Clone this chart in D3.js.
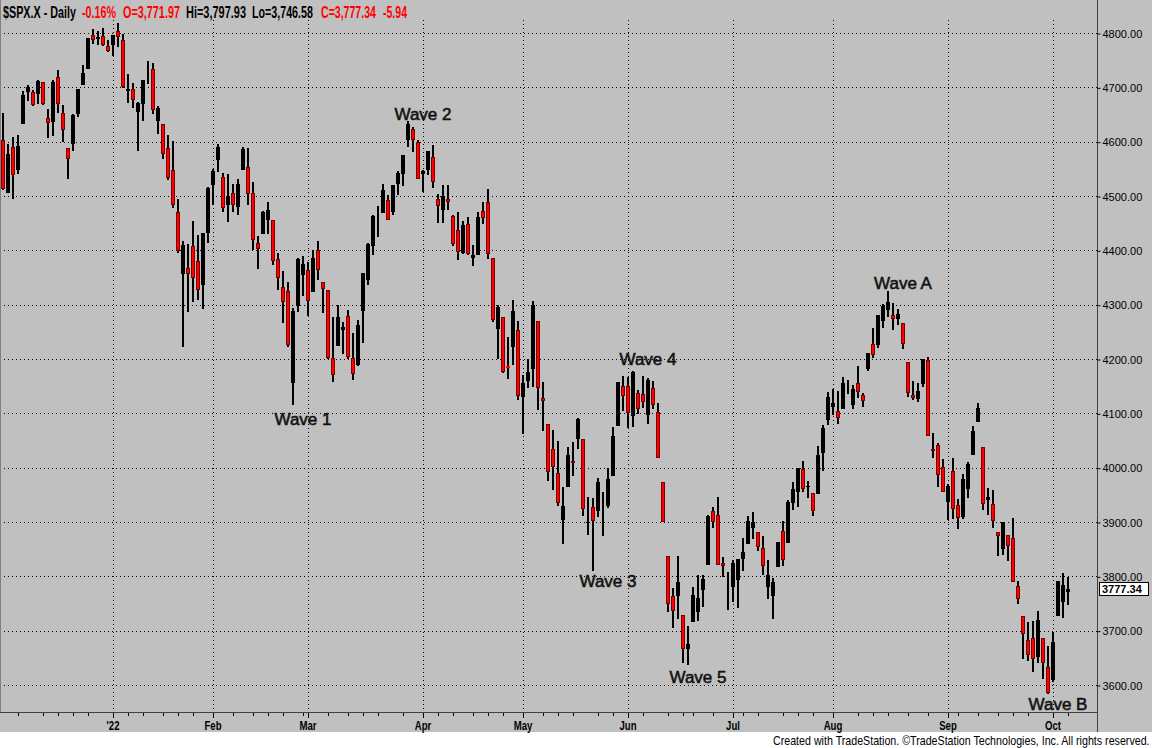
<!DOCTYPE html>
<html>
<head>
<meta charset="utf-8">
<script src="https://cdn.jsdelivr.net/npm/d3@7"></script>
<style>
  body { margin: 0; background: #fff; }
  svg { display: block; }
</style>
</head>
<body>
<div id="wrapper"></div>
<script>
// daily bars, Dec 2021 - Oct 2022
const dates = [
  "2021-12-01","2021-12-02","2021-12-03","2021-12-06","2021-12-07","2021-12-08","2021-12-09","2021-12-10","2021-12-13","2021-12-14","2021-12-15","2021-12-16","2021-12-17","2021-12-20","2021-12-21","2021-12-22","2021-12-23","2021-12-27","2021-12-28","2021-12-29","2021-12-30","2021-12-31",
  "2022-01-03","2022-01-04","2022-01-05","2022-01-06","2022-01-07","2022-01-10","2022-01-11","2022-01-12","2022-01-13","2022-01-14","2022-01-18","2022-01-19","2022-01-20","2022-01-21","2022-01-24","2022-01-25","2022-01-26","2022-01-27","2022-01-28","2022-01-31",
  "2022-02-01","2022-02-02","2022-02-03","2022-02-04","2022-02-07","2022-02-08","2022-02-09","2022-02-10","2022-02-11","2022-02-14","2022-02-15","2022-02-16","2022-02-17","2022-02-18","2022-02-22","2022-02-23","2022-02-24","2022-02-25","2022-02-28",
  "2022-03-01","2022-03-02","2022-03-03","2022-03-04","2022-03-07","2022-03-08","2022-03-09","2022-03-10","2022-03-11","2022-03-14","2022-03-15","2022-03-16","2022-03-17","2022-03-18","2022-03-21","2022-03-22","2022-03-23","2022-03-24","2022-03-25","2022-03-28","2022-03-29","2022-03-30","2022-03-31",
  "2022-04-01","2022-04-04","2022-04-05","2022-04-06","2022-04-07","2022-04-08","2022-04-11","2022-04-12","2022-04-13","2022-04-14","2022-04-18","2022-04-19","2022-04-20","2022-04-21","2022-04-22","2022-04-25","2022-04-26","2022-04-27","2022-04-28","2022-04-29",
  "2022-05-02","2022-05-03","2022-05-04","2022-05-05","2022-05-06","2022-05-09","2022-05-10","2022-05-11","2022-05-12","2022-05-13","2022-05-16","2022-05-17","2022-05-18","2022-05-19","2022-05-20","2022-05-23","2022-05-24","2022-05-25","2022-05-26","2022-05-27","2022-05-31",
  "2022-06-01","2022-06-02","2022-06-03","2022-06-06","2022-06-07","2022-06-08","2022-06-09","2022-06-10","2022-06-13","2022-06-14","2022-06-15","2022-06-16","2022-06-17","2022-06-21","2022-06-22","2022-06-23","2022-06-24","2022-06-27","2022-06-28","2022-06-29","2022-06-30",
  "2022-07-01","2022-07-05","2022-07-06","2022-07-07","2022-07-08","2022-07-11","2022-07-12","2022-07-13","2022-07-14","2022-07-15","2022-07-18","2022-07-19","2022-07-20","2022-07-21","2022-07-22","2022-07-25","2022-07-26","2022-07-27","2022-07-28","2022-07-29",
  "2022-08-01","2022-08-02","2022-08-03","2022-08-04","2022-08-05","2022-08-08","2022-08-09","2022-08-10","2022-08-11","2022-08-12","2022-08-15","2022-08-16","2022-08-17","2022-08-18","2022-08-19","2022-08-22","2022-08-23","2022-08-24","2022-08-25","2022-08-26","2022-08-29","2022-08-30","2022-08-31",
  "2022-09-01","2022-09-02","2022-09-06","2022-09-07","2022-09-08","2022-09-09","2022-09-12","2022-09-13","2022-09-14","2022-09-15","2022-09-16","2022-09-19","2022-09-20","2022-09-21","2022-09-22","2022-09-23","2022-09-26","2022-09-27","2022-09-28","2022-09-29","2022-09-30",
  "2022-10-03","2022-10-04","2022-10-05","2022-10-06"
];

const opens = [
  4602.82,4504.73,4589.49,4548.37,4631.97,4690.86,4691.00,4687.64,4710.30,4642.99,4636.46,4719.13,4652.50,4587.90,4594.96,4650.36,4703.96,4733.99,4795.49,4788.64,4794.23,4775.21,
  4778.14,4804.51,4787.99,4693.39,4697.66,4655.34,4669.14,4728.59,4733.56,4637.99,4632.24,4588.03,4547.35,4471.38,4356.32,4366.64,4408.43,4380.58,4336.19,4431.79,
  4519.57,4566.39,4535.41,4482.79,4505.75,4480.02,4547.00,4553.24,4506.27,4412.61,4429.28,4455.75,4456.06,4384.57,4332.74,4324.93,4155.77,4298.38,4354.17,
  4363.14,4322.56,4401.31,4342.12,4327.01,4202.66,4223.10,4252.55,4279.50,4202.75,4188.82,4288.14,4345.11,4407.34,4462.40,4469.10,4493.10,4469.98,4522.91,4541.09,4602.86,4624.20,4599.02,
  4540.32,4547.97,4572.45,4494.17,4474.65,4494.15,4462.64,4437.59,4394.30,4449.12,4385.63,4390.63,4472.26,4489.17,4385.83,4255.34,4278.14,4186.52,4222.58,4253.75,
  4130.61,4159.78,4181.18,4270.43,4128.17,4081.27,4035.18,3990.08,3903.95,3963.90,4013.02,4052.00,4051.98,3899.00,3927.76,3919.42,3942.94,3929.59,3984.60,4077.43,4151.09,
  4149.78,4095.41,4137.57,4134.72,4096.47,4147.12,4101.65,3974.39,3838.15,3763.52,3764.05,3728.18,3665.90,3715.31,3733.89,3774.71,3821.75,3920.76,3913.00,3825.09,3785.99,
  3781.00,3792.61,3831.98,3858.85,3888.26,3880.94,3851.95,3779.67,3763.99,3818.00,3883.79,3860.73,3935.32,3955.47,3998.40,3965.72,3953.22,3951.43,4026.13,4087.33,
  4112.38,4104.21,4107.96,4154.85,4115.87,4155.93,4133.11,4181.02,4227.40,4225.02,4269.37,4290.46,4280.40,4273.13,4266.31,4195.08,4133.09,4126.55,4153.26,4198.74,4034.58,4041.25,4000.67,
  3936.73,3994.66,3930.89,3909.43,3959.94,4022.94,4083.67,4037.12,3940.73,3932.41,3880.95,3849.91,3875.23,3871.40,3782.36,3727.14,3682.72,3686.44,3651.94,3687.01,3633.48,
  3609.78,3726.46,3753.25,3771.97
];

const highs = [
  4652.94,4595.46,4608.03,4612.60,4694.04,4705.06,4695.26,4713.57,4710.30,4660.47,4712.60,4731.99,4666.70,4587.90,4651.14,4697.67,4740.74,4791.49,4807.02,4804.06,4808.93,4786.83,
  4796.64,4818.62,4797.70,4725.01,4707.95,4673.02,4714.13,4748.83,4744.13,4665.13,4632.24,4611.55,4602.11,4494.52,4417.35,4411.01,4453.23,4428.74,4432.72,4516.89,
  4550.49,4595.31,4542.88,4539.66,4521.86,4531.32,4590.03,4588.92,4526.33,4426.22,4472.77,4489.55,4456.06,4394.60,4362.12,4341.51,4294.73,4385.34,4388.84,
  4378.45,4401.48,4416.78,4342.12,4327.01,4276.94,4299.40,4268.28,4291.01,4247.57,4271.05,4357.86,4412.67,4465.40,4481.75,4522.00,4501.07,4520.58,4546.03,4575.65,4637.30,4627.77,4603.07,
  4548.70,4583.50,4593.45,4503.94,4521.16,4520.41,4464.35,4471.00,4453.92,4460.46,4410.31,4471.03,4488.29,4512.94,4385.83,4299.02,4278.14,4240.71,4308.45,4269.68,
  4169.81,4200.10,4307.66,4270.43,4157.69,4081.27,4068.82,4049.09,3964.80,4038.88,4046.46,4090.72,4051.98,3945.96,3943.42,3981.88,3955.68,3999.33,4075.14,4158.49,4168.34,
  4166.54,4177.51,4142.67,4168.78,4164.86,4160.14,4119.10,3974.39,3838.15,3778.18,3837.56,3728.18,3707.71,3779.65,3801.79,3802.58,3913.65,3927.72,3945.86,3836.50,3807.50,
  3829.82,3832.19,3870.91,3910.63,3918.50,3880.94,3873.41,3829.44,3796.41,3863.62,3902.44,3939.81,3974.13,3999.29,4012.44,3975.30,3953.22,4039.56,4078.95,4140.15,
  4144.95,4140.47,4167.66,4161.29,4151.58,4186.62,4137.30,4211.03,4257.91,4280.47,4301.79,4325.28,4302.18,4292.53,4266.31,4195.08,4159.77,4156.56,4200.54,4203.04,4062.99,4044.98,4015.37,
  3970.23,4018.43,3942.55,3987.89,4010.50,4076.81,4119.28,4037.12,3961.94,3959.14,3880.95,3900.45,3876.01,3907.07,3790.90,3727.14,3715.67,3717.53,3736.74,3687.01,3671.44,
  3698.35,3791.92,3806.91,3797.93
];

const lows = [
  4510.27,4504.73,4495.12,4540.51,4631.97,4674.52,4665.98,4670.24,4667.60,4606.52,4611.22,4651.89,4600.22,4531.10,4583.16,4645.53,4703.96,4733.99,4780.04,4778.08,4775.33,4765.75,
  4758.17,4774.27,4699.44,4671.26,4662.74,4582.24,4638.27,4706.71,4650.29,4614.75,4568.70,4530.20,4477.95,4395.34,4222.62,4287.11,4304.80,4309.50,4292.46,4414.02,
  4483.53,4544.32,4470.39,4451.50,4471.47,4465.40,4547.00,4484.31,4401.41,4364.84,4429.28,4429.68,4373.81,4327.22,4267.11,4221.51,4114.65,4286.83,4315.12,
  4279.54,4322.56,4345.56,4284.98,4199.85,4157.87,4223.10,4209.80,4200.49,4161.72,4187.90,4229.34,4335.65,4390.57,4424.30,4469.10,4455.81,4465.17,4501.07,4517.69,4589.66,4581.32,4530.41,
  4507.57,4539.21,4514.17,4450.04,4450.30,4474.60,4408.38,4381.34,4392.70,4390.77,4370.30,4390.63,4448.76,4384.47,4267.62,4200.82,4175.04,4162.90,4188.63,4124.28,
  4062.51,4147.08,4148.91,4106.01,4067.91,3975.48,3958.17,3928.82,3858.87,3963.90,3983.99,4033.93,3911.91,3876.58,3810.32,3909.04,3875.13,3925.03,3984.60,4077.43,4104.88,
  4073.85,4074.37,4098.67,4109.18,4080.19,4107.20,4017.17,3900.16,3734.30,3705.68,3722.30,3639.77,3636.87,3715.31,3717.69,3743.52,3821.75,3889.66,3820.14,3799.02,3738.67,
  3752.10,3742.06,3809.37,3858.85,3869.34,3847.22,3802.36,3758.89,3721.56,3817.18,3818.63,3860.73,3922.03,3927.64,3955.77,3943.46,3910.74,3951.43,3992.97,4079.22,
  4096.02,4079.81,4107.96,4135.42,4107.31,4128.97,4112.09,4177.26,4201.41,4219.78,4256.90,4277.77,4253.08,4261.98,4218.70,4129.86,4124.03,4119.97,4147.59,4057.66,4017.42,3965.21,3954.53,
  3903.65,3906.21,3886.57,3906.03,3944.81,4022.94,4083.67,3921.79,3912.86,3888.28,3837.08,3838.50,3827.54,3789.49,3749.73,3647.47,3644.76,3623.29,3640.61,3610.40,3584.13,
  3604.93,3726.46,3722.66,3746.58
];

const closes = [
  4513.04,4577.10,4538.43,4591.67,4686.75,4701.21,4667.45,4712.02,4668.97,4634.09,4709.85,4668.67,4620.64,4568.02,4649.23,4696.56,4725.79,4791.19,4786.35,4793.06,4778.73,4766.18,
  4796.56,4793.54,4700.58,4696.05,4677.03,4670.29,4713.07,4726.35,4659.03,4662.85,4577.11,4532.76,4482.73,4397.94,4410.13,4356.45,4349.93,4326.51,4431.85,4515.55,
  4546.54,4589.38,4477.44,4500.53,4483.87,4521.54,4587.18,4504.08,4418.64,4401.67,4471.07,4475.01,4380.26,4348.87,4304.76,4225.50,4288.70,4384.65,4373.94,
  4306.26,4386.54,4363.49,4328.87,4201.09,4170.70,4277.88,4259.52,4204.31,4173.11,4262.45,4357.86,4411.67,4463.12,4461.18,4511.61,4456.24,4520.16,4543.06,4575.52,4631.60,4602.45,4530.41,
  4545.86,4582.64,4525.12,4481.15,4500.21,4488.28,4412.53,4397.45,4446.59,4392.59,4391.69,4462.21,4459.45,4393.66,4271.78,4296.12,4175.20,4183.96,4287.50,4131.93,
  4155.38,4175.48,4300.17,4146.87,4123.34,3991.24,4001.05,3935.18,3930.08,4023.89,4008.01,4088.85,3923.68,3900.79,3901.36,3973.75,3941.48,3978.73,4057.84,4158.24,4132.15,
  4101.23,4176.82,4108.54,4121.43,4160.68,4115.77,4017.82,3900.86,3749.63,3735.48,3789.99,3666.77,3674.84,3764.79,3759.89,3795.73,3911.74,3900.11,3821.55,3818.83,3785.38,
  3825.33,3831.39,3845.08,3902.62,3899.38,3854.43,3818.80,3801.78,3790.38,3863.16,3830.85,3936.69,3959.90,3998.95,3961.63,3966.84,3921.05,4023.61,4072.43,4130.29,
  4118.63,4091.19,4155.17,4151.94,4145.19,4140.06,4122.47,4210.24,4207.27,4280.15,4297.14,4305.20,4274.04,4283.74,4228.48,4137.99,4128.73,4140.77,4199.12,4057.66,4030.61,3986.16,3955.00,
  3966.85,3924.26,3908.19,3979.87,4006.18,4067.36,4110.41,3932.69,3946.01,3901.35,3873.33,3899.89,3855.93,3789.93,3757.99,3693.23,3655.04,3647.29,3719.04,3640.47,3585.62,
  3678.43,3790.93,3783.28,3777.34
];

const priceTicks = [3600, 3700, 3800, 3900, 4000, 4100, 4200, 4300, 4400, 4500, 4600, 4700, 4800];
const monthStarts = ["2022-01-03","2022-02-01","2022-03-01","2022-04-01","2022-05-02","2022-06-01","2022-07-01","2022-08-01","2022-09-01","2022-10-03"];
const monthLabels = ["'22","Feb","Mar","Apr","May","Jun","Jul","Aug","Sep","Oct"];

const waveLabels = ["Wave 1","Wave 2","Wave 3","Wave 4","Wave 5","Wave A","Wave B"];
const waveDates  = ["2022-02-28","2022-04-01","2022-05-25","2022-06-07","2022-06-22","2022-08-19","2022-10-04"];
const waveLevels = [4079, 4640, 3780, 4189, 3604, 4329, 3554];

const lastPrice = 3777.34;
const headerParts = [
  { text: "$SPX.X - Daily", color: "#000", x: 3,   w: 73 },
  { text: "-0.16%",         color: "#f00", x: 82,  w: 34 },
  { text: "O=3,771.97",     color: "#f00", x: 123, w: 57 },
  { text: "Hi=3,797.93",    color: "#000", x: 186, w: 60 },
  { text: "Lo=3,746.58",    color: "#000", x: 252, w: 61 },
  { text: "C=3,777.34",     color: "#f00", x: 321, w: 55 },
  { text: "-5.94",          color: "#f00", x: 383, w: 24 }
];

const bars = dates.map((d, i) => ({
  date: d, open: opens[i], high: highs[i], low: lows[i], close: closes[i]
}));

const width = 1152;
const height = 748;
const plotRight = 1097;
const plotBottom = 712;
const sans = "'Liberation Sans', Arial, sans-serif";

// squeeze a text horizontally so it spans exactly w pixels (TradeStation uses a condensed face)
function fitText(sel, x, y, w, anchor) {
  sel.each(function () {
    const node = this;
    const natural = node.getComputedTextLength() || w;
    const sx = w / natural;
    const left = anchor === "middle" ? x - w / 2 : anchor === "end" ? x - w : x;
    d3.select(node)
      .attr("x", 0).attr("y", 0)
      .attr("text-anchor", "start")
      .attr("transform", `translate(${left},${y}) scale(${sx},1)`);
  });
}

const svg = d3.select("#wrapper").append("svg")
  .attr("width", width)
  .attr("height", height);

svg.append("rect").attr("width", width).attr("height", height).attr("fill", "#fff");
svg.append("rect").attr("width", width).attr("height", 732).attr("fill", "#c0c0c0");

const xScale = d3.scaleBand()
  .domain(dates)
  .range([0, dates.length * 5])
  .padding(0);

const yScale = d3.scaleLinear()
  .domain([3600, 4800])
  .range([685, 33]);

// gridlines
svg.append("g")
  .selectAll("line")
  .data(priceTicks)
  .join("line")
  .attr("x1", 0).attr("x2", plotRight)
  .attr("y1", d => Math.round(yScale(d)) + 0.5)
  .attr("y2", d => Math.round(yScale(d)) + 0.5)
  .attr("stroke", "#000")
  .attr("stroke-dasharray", "1,3");

svg.append("g")
  .selectAll("line")
  .data(monthStarts)
  .join("line")
  .attr("x1", d => xScale(d) + 3.5)
  .attr("x2", d => xScale(d) + 3.5)
  .attr("y1", 20).attr("y2", plotBottom)
  .attr("stroke", "#000")
  .attr("stroke-dasharray", "1,3");

// candles
const candles = svg.append("g");

candles.selectAll("rect.wick")
  .data(bars)
  .join("rect")
  .attr("class", "wick")
  .attr("x", d => xScale(d.date) + 2)
  .attr("width", 2)
  .attr("y", d => Math.round(yScale(d.high)))
  .attr("height", d => Math.max(1, Math.round(yScale(d.low)) - Math.round(yScale(d.high))))
  .attr("fill", "#000");

const upBars = bars.filter(d => d.close >= d.open);
const downBars = bars.filter(d => d.close < d.open);

candles.selectAll("rect.up")
  .data(upBars)
  .join("rect")
  .attr("class", "up")
  .attr("x", d => xScale(d.date) + 1)
  .attr("width", 4)
  .attr("y", d => Math.round(yScale(d.close)))
  .attr("height", d => Math.max(1, Math.round(yScale(d.open)) - Math.round(yScale(d.close))))
  .attr("fill", "#000");

candles.selectAll("rect.down")
  .data(downBars)
  .join("rect")
  .attr("class", "down")
  .attr("x", d => xScale(d.date) + 1.5)
  .attr("width", 3)
  .attr("y", d => Math.round(yScale(d.open)) + 0.5)
  .attr("height", d => Math.max(0, Math.round(yScale(d.close)) - Math.round(yScale(d.open)) - 1))
  .attr("fill", "#f00")
  .attr("stroke", d => (yScale(d.close) - yScale(d.open) < 2 ? "#f00" : "#7a0000"))
  .attr("stroke-width", 1);

// wave annotations
svg.append("g")
  .selectAll("text")
  .data(waveLabels)
  .join("text")
  .attr("x", (d, i) => xScale(waveDates[i]) + 3)
  .attr("y", (d, i) => yScale(waveLevels[i]))
  .attr("text-anchor", "middle")
  .attr("font-family", sans)
  .attr("font-size", 17)
  .attr("fill", "#111")
  .attr("stroke", "#111")
  .attr("stroke-width", 0.55)
  .text(d => d);

// frame
svg.append("line")
  .attr("x1", 0.5).attr("x2", 0.5).attr("y1", 0).attr("y2", plotBottom)
  .attr("stroke", "#808080");
svg.append("line")
  .attr("x1", plotRight + 0.5).attr("x2", plotRight + 0.5).attr("y1", 0).attr("y2", 732)
  .attr("stroke", "#404040");
svg.append("line")
  .attr("x1", 0).attr("x2", plotRight).attr("y1", plotBottom + 0.5).attr("y2", plotBottom + 0.5)
  .attr("stroke", "#404040");

// right price axis
const yAxis = d3.axisRight(yScale)
  .tickValues(priceTicks)
  .tickSize(3)
  .tickPadding(2)
  .tickFormat(d3.format(".2f"));

const yAxisG = svg.append("g")
  .attr("transform", `translate(${plotRight + 0.5},0.5)`)
  .call(yAxis);
yAxisG.select(".domain").remove();
yAxisG.selectAll(".tick line").attr("stroke", "#000");
yAxisG.selectAll(".tick text")
  .attr("font-family", sans)
  .attr("font-size", 11)
  .attr("fill", "#000");

// last price box
const lastY = Math.round(yScale(lastPrice));
svg.append("rect")
  .attr("x", plotRight + 2.5).attr("y", lastY - 6.5)
  .attr("width", 49).attr("height", 13)
  .attr("fill", "#fff").attr("stroke", "#000");
svg.append("text")
  .attr("x", plotRight + 5).attr("y", lastY + 4)
  .attr("font-family", sans)
  .attr("font-size", 11)
  .attr("font-weight", "bold")
  .attr("fill", "#000")
  .text(d3.format(".2f")(lastPrice));

// bottom date axis: small ticks every few sessions, long ticks at month starts
const minorTicks = dates.filter((d, i) => {
  if (i === 0) return false;
  const prev = +dates[i - 1].slice(8);
  const cur = +d.slice(8);
  return [6, 11, 16, 21, 26].some(t => prev < t && cur >= t);
});

svg.append("g")
  .selectAll("line")
  .data(minorTicks)
  .join("line")
  .attr("x1", d => xScale(d) + 3.5)
  .attr("x2", d => xScale(d) + 3.5)
  .attr("y1", plotBottom + 1).attr("y2", plotBottom + 4)
  .attr("stroke", "#000");

svg.append("g")
  .selectAll("line")
  .data(monthStarts)
  .join("line")
  .attr("x1", d => xScale(d) + 3.5)
  .attr("x2", d => xScale(d) + 3.5)
  .attr("y1", plotBottom + 1).attr("y2", plotBottom + 6)
  .attr("stroke", "#000");

svg.append("g")
  .selectAll("text")
  .data(monthLabels)
  .join("text")
  .attr("font-family", sans)
  .attr("font-size", 12)
  .attr("font-weight", "bold")
  .attr("fill", "#000")
  .text(d => d)
  .each(function (d, i) {
    const natural = this.getComputedTextLength();
    fitText(d3.select(this), xScale(monthStarts[i]) + 3, 730, natural * 0.8, "middle");
  });

// header
svg.append("g")
  .selectAll("text")
  .data(headerParts)
  .join("text")
  .attr("font-family", sans)
  .attr("font-size", 16.5)
  .attr("font-weight", "bold")
  .attr("fill", d => d.color)
  .text(d => d.text)
  .each(function (d) {
    fitText(d3.select(this), d.x, 17.5, d.w, "start");
  });

// footer
svg.append("text")
  .attr("font-family", sans)
  .attr("font-size", 12)
  .attr("fill", "#000")
  .text("Created with TradeStation. \u00A9TradeStation Technologies, Inc. All rights reserved.")
  .call(fitText, 1150, 745, 377, "end");
</script>
</body>
</html>
